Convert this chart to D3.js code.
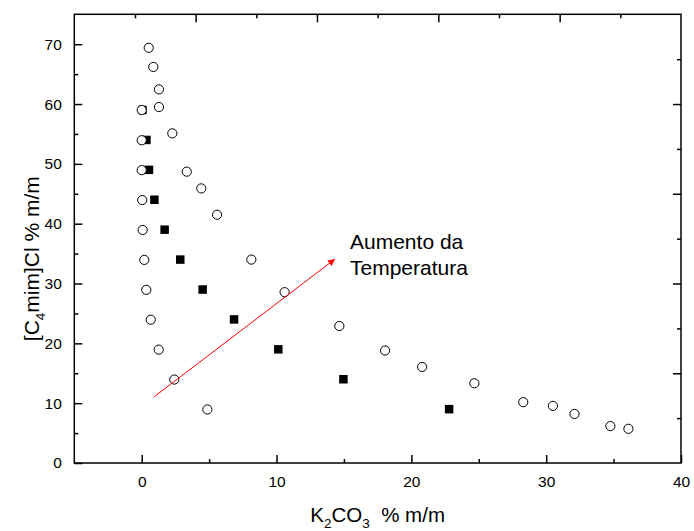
<!DOCTYPE html>
<html lang="en">
<head>
<meta charset="UTF-8">
<title>Binodal K2CO3 / [C4mim]Cl</title>
<script src="https://d3js.org/d3.v7.min.js"></script>
<style>
  body { margin: 0; background: #fff; }
  text { font-family: Arial, "Liberation Sans", sans-serif; fill: #000; }
</style>
</head>
<body>
<script>
// open circles
var circleX = [0.52, 0.86, 1.28, 1.28, 0.0, 2.27, 0.0, 3.34, 0.0, 4.42, 5.59, 0.04, 0.07,
               0.19, 8.13, 0.34, 10.6, 0.67, 1.26, 2.42, 4.87,
               14.66, 18.05, 20.8, 24.67, 28.3, 30.5, 32.1, 34.76, 36.1];
var circleY = [69.4, 66.2, 62.45, 59.5, 59.0, 55.1, 53.95, 48.7, 48.95, 45.9, 41.5, 43.95, 38.95,
               33.95, 34.0, 28.95, 28.55, 23.95, 18.95, 13.95, 8.95,
               22.9, 18.8, 16.05, 13.33, 10.17, 9.55, 8.2, 6.17, 5.72];
// filled squares
var squareX = [0.05, 0.35, 0.54, 0.94, 1.7, 2.86, 4.52, 6.85, 10.13, 14.96, 22.8];
var squareY = [59, 54, 49, 44, 39, 34, 29, 24, 19, 14, 9];

var xMajor = [0, 10, 20, 30, 40];
var xMinor = [5, 15, 25, 35];
var yMajor = [0, 10, 20, 30, 40, 50, 60, 70];
var yMinor = [5, 15, 25, 35, 45, 55, 65];
// top / right axes are unlinked 0..1 axes
var frameMajor = [0.2, 0.4, 0.6, 0.8];
var frameMinor = [0.1, 0.3, 0.5, 0.7, 0.9];

var arrowFrom = [0.91, 11.05];
var arrowTo = [14.34, 34.1];
var labelAt = [15.45, 35.8];
var labelLines = ["Aumento da", "Temperatura"];

var margin = { top: 14.3, right: 13, bottom: 68, left: 74.3 },
    width = 694 - margin.left - margin.right,
    height = 531 - margin.top - margin.bottom;

var svg = d3.select("body").append("svg")
    .attr("width", 694)
    .attr("height", 531);
var g = svg.append("g")
    .attr("transform", "translate(" + margin.left + "," + margin.top + ")");

var x = d3.scaleLinear().domain([-5, 40]).range([0, width]);
var y = d3.scaleLinear().domain([0, 75]).range([height, 0]);
var fx = d3.scaleLinear().domain([0, 1]).range([0, width]);
var fy = d3.scaleLinear().domain([0, 1]).range([height, 0]);

function styleAxis(sel) {
    sel.select(".domain").remove();
    sel.selectAll("line").attr("stroke", "#000").attr("stroke-width", 1.5);
    sel.selectAll("text").style("font-size", "15.5px").attr("fill", "#000");
}

// bottom
g.append("g").attr("transform", "translate(0," + height + ")")
    .call(d3.axisBottom(x).tickValues(xMajor).tickSizeInner(-8).tickSizeOuter(0).tickPadding(12.5).tickFormat(d3.format("d")))
    .call(styleAxis);
g.append("g").attr("transform", "translate(0," + height + ")")
    .call(d3.axisBottom(x).tickValues(xMinor).tickSizeInner(-4).tickSizeOuter(0).tickFormat(""))
    .call(styleAxis);
// left
g.append("g")
    .call(d3.axisLeft(y).tickValues(yMajor).tickSizeInner(-8).tickSizeOuter(0).tickPadding(12.5).tickFormat(d3.format("d")))
    .call(styleAxis);
g.append("g")
    .call(d3.axisLeft(y).tickValues(yMinor).tickSizeInner(-4).tickSizeOuter(0).tickFormat(""))
    .call(styleAxis);
// top
g.append("g")
    .call(d3.axisTop(fx).tickValues(frameMajor).tickSizeInner(-8).tickSizeOuter(0).tickFormat(""))
    .call(styleAxis);
g.append("g")
    .call(d3.axisTop(fx).tickValues(frameMinor).tickSizeInner(-4).tickSizeOuter(0).tickFormat(""))
    .call(styleAxis);
// right
g.append("g").attr("transform", "translate(" + width + ",0)")
    .call(d3.axisRight(fy).tickValues(frameMajor).tickSizeInner(-8).tickSizeOuter(0).tickFormat(""))
    .call(styleAxis);
g.append("g").attr("transform", "translate(" + width + ",0)")
    .call(d3.axisRight(fy).tickValues(frameMinor).tickSizeInner(-4).tickSizeOuter(0).tickFormat(""))
    .call(styleAxis);

// frame
g.append("rect")
    .attr("width", width).attr("height", height)
    .attr("fill", "none").attr("stroke", "#000").attr("stroke-width", 1.5);

// squares
var sq = 8.5;
g.selectAll(".sq")
    .data(d3.range(squareX.length))
    .enter().append("rect")
    .attr("class", "sq")
    .attr("x", i => x(squareX[i]) - sq / 2)
    .attr("y", i => y(squareY[i]) - sq / 2)
    .attr("width", sq).attr("height", sq)
    .attr("fill", "#000");

// circles
g.selectAll(".ci")
    .data(d3.range(circleX.length))
    .enter().append("circle")
    .attr("class", "ci")
    .attr("cx", i => x(circleX[i]))
    .attr("cy", i => y(circleY[i]))
    .attr("r", 4.6)
    .attr("fill", "#fff")
    .attr("stroke", "#000")
    .attr("stroke-width", 1);

// arrow
svg.append("defs").append("marker")
    .attr("id", "head")
    .attr("viewBox", "0 0 10 10")
    .attr("refX", 10).attr("refY", 5)
    .attr("markerWidth", 11).attr("markerHeight", 7)
    .attr("markerUnits", "userSpaceOnUse")
    .attr("orient", "auto")
    .append("path").attr("d", "M0,0 L10,5 L0,10 Z").attr("fill", "#ff0000");

g.append("line")
    .attr("x1", x(arrowFrom[0])).attr("y1", y(arrowFrom[1]))
    .attr("x2", x(arrowTo[0])).attr("y2", y(arrowTo[1]))
    .attr("stroke", "#ff0000").attr("stroke-width", 1)
    .attr("marker-end", "url(#head)");

var lab = g.append("text")
    .attr("x", x(labelAt[0])).attr("y", y(labelAt[1]))
    .style("font-size", "21px");
lab.selectAll("tspan").data(labelLines).enter().append("tspan")
    .attr("x", x(labelAt[0]))
    .attr("dy", (d, i) => i === 0 ? 0 : 25.7)
    .text(d => d);

// axis titles
var xt = svg.append("text")
    .attr("x", margin.left + width / 2).attr("y", 521.7)
    .attr("text-anchor", "middle")
    .style("font-size", "20.5px");
xt.append("tspan").text("K");
xt.append("tspan").attr("dy", 6).style("font-size", "13.5px").text("2");
xt.append("tspan").attr("dy", -6).text("CO");
xt.append("tspan").attr("dy", 6).style("font-size", "13.5px").text("3");
xt.append("tspan").attr("dy", -6).attr("xml:space", "preserve").text("\u00a0 % m/m");

var yt = svg.append("text")
    .attr("transform", "translate(38.5," + (margin.top + height / 2 + 20) + ") rotate(-90)")
    .attr("text-anchor", "middle")
    .style("font-size", "21px");
yt.append("tspan").text("[C");
yt.append("tspan").attr("dy", 6).style("font-size", "13.5px").text("4");
yt.append("tspan").attr("dy", -6).text("mim]Cl % m/m");
</script>
</body>
</html>
